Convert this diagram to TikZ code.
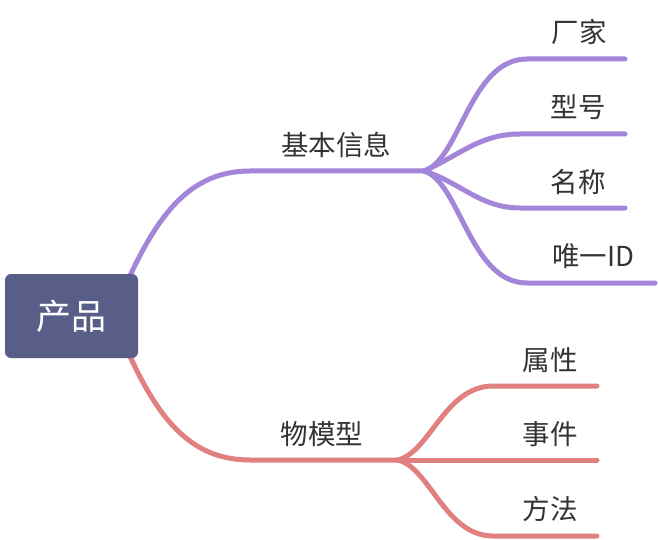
\documentclass[tikz,border=0pt]{standalone}
\usepackage{fontspec}
\setmainfont{Noto Sans CJK SC}
\definecolor{rootfill}{HTML}{585E88}
\definecolor{purp}{HTML}{A386DA}
\definecolor{redl}{HTML}{E08080}
\definecolor{txt}{HTML}{333333}
\begin{document}
\begin{tikzpicture}[x=1pt,y=-1pt,
  rootbox/.style={fill=rootfill,rounded corners=6pt,minimum width=133pt,minimum height=84pt,inner sep=0pt,text=white,font=\fontsize{35}{35}\selectfont},
  lbl/.style={text=txt,inner sep=0pt,font=\fontsize{27.5}{27.5}\selectfont},
  pline/.style={draw=purp,line width=5pt,line cap=round},
  rline/.style={draw=redl,line width=5pt,line cap=round}]
\useasboundingbox (0,0) rectangle (658,540);
% purple branch
\coordinate (p0) at (128,280);
\coordinate (p1) at (250,171);
\coordinate (pj) at (424,171);
\node[lbl] (n1) at (336,145) {基本信息};
\draw[pline] (p0) .. controls (158,215) and (190,171) .. (p1) -- (pj);
\coordinate (a1) at (527,59);  \coordinate (a2) at (625,59);
\coordinate (b1) at (520,134); \coordinate (b2) at (625,134);
\coordinate (c1) at (520,208); \coordinate (c2) at (625,208);
\coordinate (d1) at (527,283); \coordinate (d2) at (655,283);
\node[lbl] (l1) at (579,32) {厂家};
\node[lbl] (l2) at (578,107) {型号};
\node[lbl] (l3) at (578,182) {名称};
\node[lbl] (l4) at (593,256) {唯一ID};
\draw[pline] (pj) .. controls (460,160) and (470,59) .. (a1) -- (a2);
\draw[pline] (pj) .. controls (460,155) and (480,134) .. (b1) -- (b2);
\draw[pline] (pj) .. controls (460,182) and (480,208) .. (c1) -- (c2);
\draw[pline] (pj) .. controls (460,182) and (470,283) .. (d1) -- (d2);
% red branch
\coordinate (r0) at (128,352);
\coordinate (r1) at (250,460);
\coordinate (rj) at (398,460);
\node[lbl] (n2) at (322,434) {物模型};
\draw[rline] (r0) .. controls (158,418) and (190,460) .. (r1) -- (rj);
\coordinate (e1) at (493,386); \coordinate (e2) at (597,386);
\coordinate (f1) at (493,460); \coordinate (f2) at (597,460);
\coordinate (g1) at (493,536); \coordinate (g2) at (597,536);
\node[lbl] (m1) at (550,360) {属性};
\node[lbl] (m2) at (550,434) {事件};
\node[lbl] (m3) at (550,509) {方法};
\draw[rline] (rj) .. controls (430,452) and (445,386) .. (e1) -- (e2);
\draw[rline] (rj) -- (f1) -- (f2);
\draw[rline] (rj) .. controls (430,468) and (445,536) .. (g1) -- (g2);
% root (drawn last, over the branch ends)
\node[rootbox] (root) at (71.5,316) {产品};
\end{tikzpicture}
\end{document}
